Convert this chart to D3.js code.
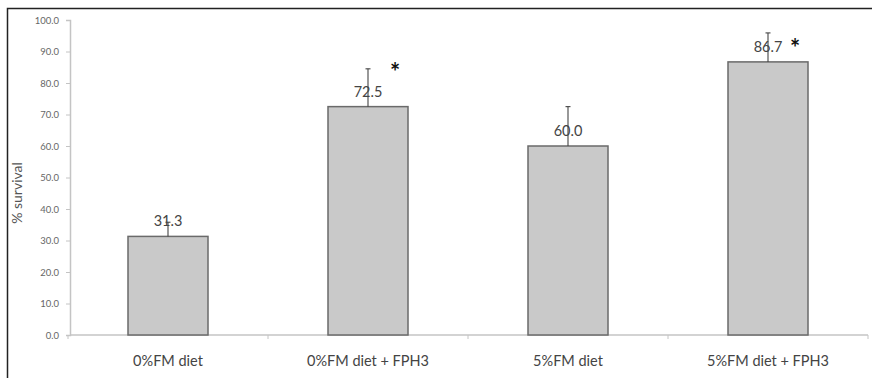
<!DOCTYPE html>
<html>
<head>
<meta charset="utf-8">
<script src="https://cdn.jsdelivr.net/npm/d3@7"></script>
<style>
  body { margin: 0; background: #fff; }
  text { font-family: Lato, "Open Sans", sans-serif; }
</style>
</head>
<body>
<div id="chart"></div>
<script>
// survival data
const categories = ["0%FM diet", "0%FM diet + FPH3", "5%FM diet", "5%FM diet + FPH3"];
const survival = [31.3, 72.5, 60.0, 86.7];
const errors = [4.5, 12.0, 12.5, 9.2];
// height (in % survival) at which the significance star sits, null = no star
const starLevel = [null, 84.8, null, 92.3];
const yTicks = [0, 10, 20, 30, 40, 50, 60, 70, 80, 90, 100];

const width = 872, height = 378;

const svg = d3.select("#chart").append("svg")
    .attr("width", width)
    .attr("height", height);

// outer frame (left + top only, as in the picture)
svg.append("path")
    .attr("d", "M7.5,378 L7.5,8.5 L872,8.5")
    .attr("fill", "none")
    .attr("stroke", "#222")
    .attr("stroke-width", 1.5);

const x = d3.scaleBand().domain(categories).range([68, 868]).paddingInner(0.6).paddingOuter(0.3);
const y = d3.scaleLinear().domain([0, 100]).range([335, 20]);

// y axis
const yAxis = svg.append("g")
    .attr("transform", "translate(70,0)")
    .call(d3.axisLeft(y).tickValues(yTicks).tickFormat(d3.format(".1f")).tickSize(4));
yAxis.select(".domain").attr("stroke", "#c4c4c4").attr("stroke-width", 1.5);
yAxis.selectAll(".tick line").attr("stroke", "#c4c4c4");
yAxis.selectAll(".tick text").attr("fill", "#666").attr("font-size", 9.5).attr("x", -11);

svg.append("text")
    .attr("transform", "translate(22,193) rotate(-90)")
    .attr("text-anchor", "middle")
    .attr("font-size", 14)
    .attr("fill", "#555")
    .text("% survival");

// x axis with ticks at category boundaries
const xAxis = svg.append("g").attr("transform", `translate(0,${y(0)})`);
xAxis.append("line")
    .attr("x1", 70).attr("x2", 868)
    .attr("stroke", "#c4c4c4").attr("stroke-width", 1.5);
const step = x.step();
categories.forEach((c, i) => {
    const bx = x(c) - x.paddingInner() * step / 2;
    xAxis.append("line").attr("x1", bx).attr("x2", bx).attr("y2", 4).attr("stroke", "#c4c4c4");
    if (i === categories.length - 1) {
        xAxis.append("line").attr("x1", bx + step).attr("x2", bx + step).attr("y2", 4).attr("stroke", "#c4c4c4");
    }
});
xAxis.selectAll("text.cat")
    .data(categories)
    .join("text")
    .attr("class", "cat")
    .attr("x", d => x(d) + x.bandwidth() / 2)
    .attr("y", 31)
    .attr("text-anchor", "middle")
    .attr("font-size", 14.5)
    .attr("fill", "#444")
    .text(d => d);

const data = categories.map((c, i) => ({ c, v: survival[i], e: errors[i], s: starLevel[i] }));

// bars
svg.append("g").selectAll("rect")
    .data(data)
    .join("rect")
    .attr("x", d => x(d.c))
    .attr("y", d => y(d.v))
    .attr("width", x.bandwidth())
    .attr("height", d => y(0) - y(d.v))
    .attr("fill", "#c9c9c9")
    .attr("stroke", "#6a6a6a")
    .attr("stroke-width", 1.5);

// value labels (drawn under the error bars)
svg.append("g").selectAll("text")
    .data(data)
    .join("text")
    .attr("x", d => x(d.c) + x.bandwidth() / 2)
    .attr("y", d => y(d.v) - 10)
    .attr("text-anchor", "middle")
    .attr("font-size", 14.5)
    .attr("fill", "#444")
    .text(d => d3.format(".1f")(d.v));

// one-sided error bars
const eb = svg.append("g").selectAll("g")
    .data(data)
    .join("g")
    .attr("stroke", "#444")
    .attr("stroke-width", 1.1);
eb.append("line")
    .attr("x1", d => x(d.c) + x.bandwidth() / 2)
    .attr("x2", d => x(d.c) + x.bandwidth() / 2)
    .attr("y1", d => y(d.v))
    .attr("y2", d => y(d.v + d.e));
eb.append("line")
    .attr("x1", d => x(d.c) + x.bandwidth() / 2 - 2.5)
    .attr("x2", d => x(d.c) + x.bandwidth() / 2 + 2.5)
    .attr("y1", d => y(d.v + d.e))
    .attr("y2", d => y(d.v + d.e));

// significance stars
svg.append("g").selectAll("text")
    .data(data.filter(d => d.s !== null))
    .join("text")
    .attr("x", d => x(d.c) + x.bandwidth() / 2 + 27)
    .attr("y", d => y(d.s) + 13)
    .attr("text-anchor", "middle")
    .attr("font-size", 24)
    .attr("font-weight", "bold")
    .attr("fill", "#111")
    .text("*");
</script>
</body>
</html>
